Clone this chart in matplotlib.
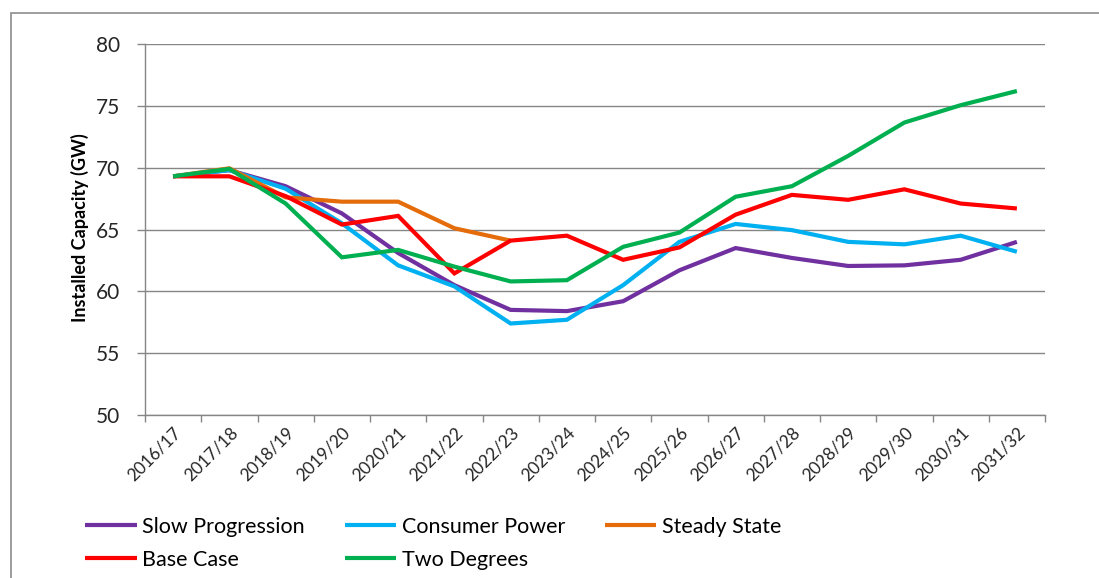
import matplotlib
matplotlib.use("Agg")
import matplotlib.pyplot as plt
from matplotlib.patches import Rectangle

plt.rcParams['font.family'] = ['Lato', 'DejaVu Sans']

years = ['2016/17', '2017/18', '2018/19', '2019/20', '2020/21', '2021/22', '2022/23', '2023/24',
         '2024/25', '2025/26', '2026/27', '2027/28', '2028/29', '2029/30', '2030/31', '2031/32']

slow_progression = [69.3, 69.8, 68.5, 66.3, 63.1, 60.5, 58.5, 58.4, 59.2, 61.7, 63.5, 62.7, 62.05, 62.1, 62.55, 64.0]
consumer_power = [69.3, 69.8, 68.3, 65.5, 62.1, 60.4, 57.4, 57.7, 60.5, 64.0, 65.45, 64.95, 64.0, 63.8, 64.5, 63.2]
steady_state = [69.3, 69.95, 67.6, 67.25, 67.25, 65.1, 64.1]
base_case = [69.3, 69.3, 67.7, 65.4, 66.1, 61.45, 64.1, 64.5, 62.55, 63.55, 66.2, 67.8, 67.4, 68.25, 67.1, 66.7]
two_degrees = [69.3, 69.9, 67.1, 62.75, 63.35, 62.0, 60.8, 60.9, 63.6, 64.75, 67.65, 68.5, 70.95, 73.65, 75.05, 76.2]

colors = {'Slow Progression': '#7030A0', 'Consumer Power': '#00B0F0', 'Steady State': '#E46C0A',
          'Base Case': '#FF0000', 'Two Degrees': '#00B050'}

fig = plt.figure(figsize=(10.99, 5.78), dpi=100)
ax = fig.add_axes([145 / 1099, 1 - 415 / 578, 900 / 1099, 371 / 578])

# outer frame (only left and top visible in the crop)
fig.patches.append(Rectangle((11 / 1099, -0.1), 1.2, 1 - 13 / 578 + 0.1, transform=fig.transFigure,
                             fill=False, edgecolor='#8c8c8c', linewidth=1.2))

series = {'Slow Progression': slow_progression, 'Consumer Power': consumer_power,
          'Steady State': steady_state, 'Base Case': base_case, 'Two Degrees': two_degrees}
lines = {}
for name, vals in series.items():
    ln, = ax.plot(range(len(vals)), vals, color=colors[name], linewidth=3, label=name,
                  solid_joinstyle='miter', solid_capstyle='butt')
    lines[name] = ln

ax.set_xlim(-0.5, len(years) - 0.5)
ax.set_ylim(50, 80)
ax.set_yticks(range(50, 81, 5))
ax.yaxis.grid(True, color='#868686', linewidth=1)
ax.set_axisbelow(True)

ax.set_xticks(range(len(years)))
ax.set_xticklabels(years, rotation=45, ha='right', rotation_mode='anchor', fontsize=12.5,
                   color='#262626')
ax.set_xticks([i - 0.5 for i in range(len(years) + 1)], minor=True)
ax.tick_params(axis='x', which='major', length=0, pad=7)
ax.tick_params(axis='x', which='minor', length=5, color='#868686', width=1)
ax.tick_params(axis='y', length=6, color='#868686', width=1, pad=12, labelsize=15, labelcolor='#262626')

for s in ['top', 'right']:
    ax.spines[s].set_visible(False)
for s in ['left', 'bottom']:
    ax.spines[s].set_color('#868686')
    ax.spines[s].set_linewidth(1)

fig.text(80 / 1099, 1 - 228 / 578, 'Installed Capacity (GW)', rotation=90, ha='center', va='center',
         fontsize=13, fontweight='bold')

# legend fills column-wise, so reorder to get row-wise layout
order = ['Slow Progression', 'Base Case', 'Consumer Power', 'Two Degrees', 'Steady State']
fig.legend([lines[n] for n in order], order, ncol=3, loc='upper left',
           bbox_to_anchor=(85 / 1099, 1 - 517 / 578), frameon=False, fontsize=15.5,
           handlelength=2.4, handletextpad=0.25, columnspacing=1.85, labelspacing=0.6,
           borderaxespad=0, borderpad=0)

fig.savefig('out.png', dpi=100)
